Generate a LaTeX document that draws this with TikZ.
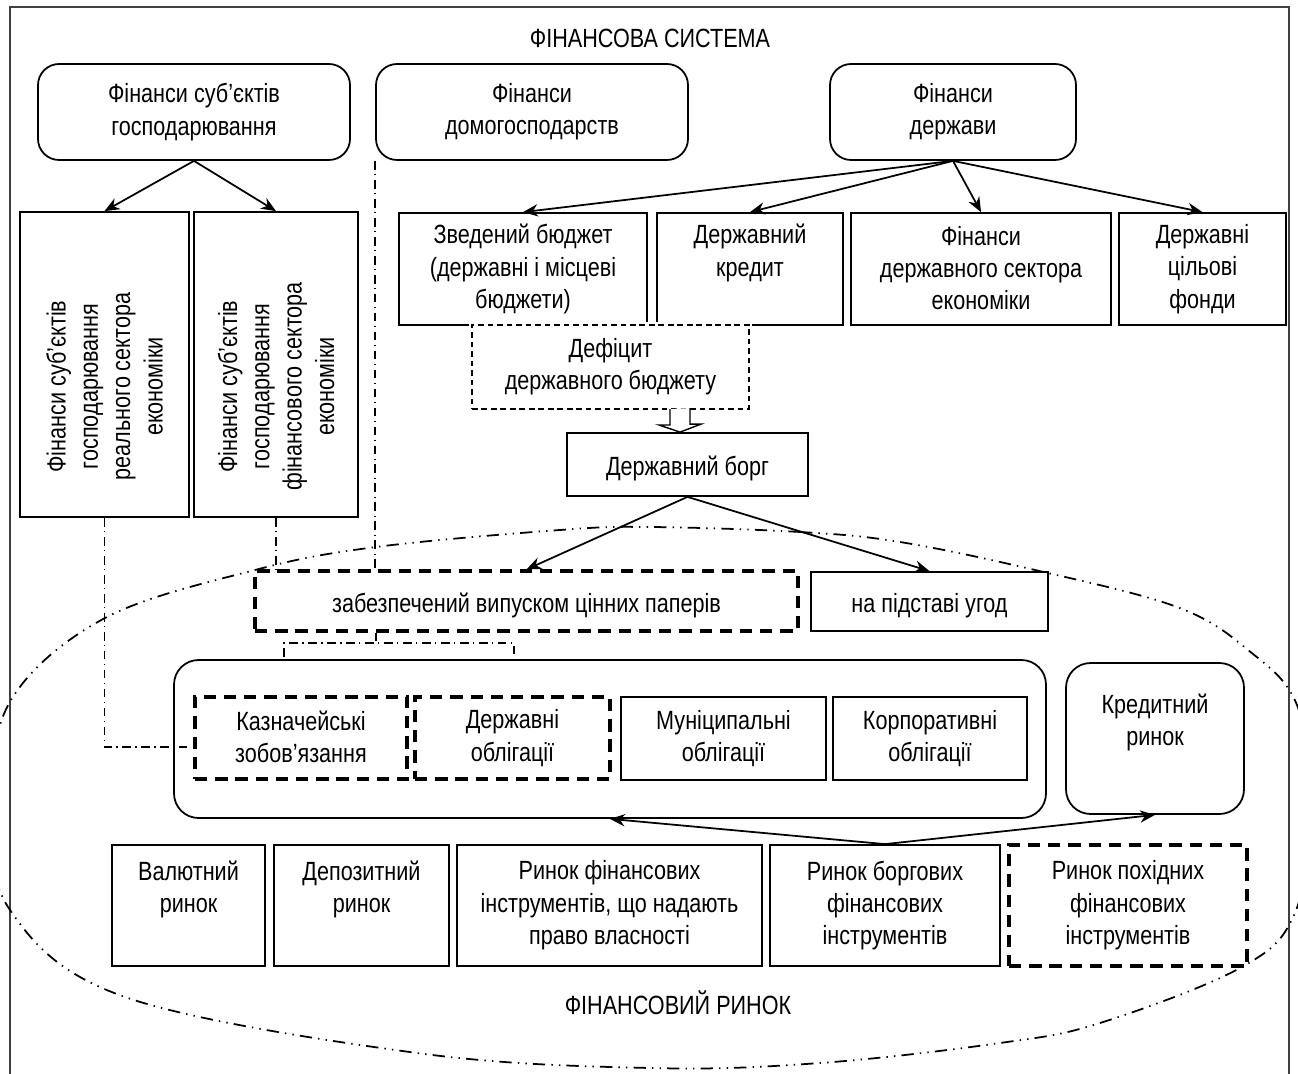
\documentclass[tikz,border=0pt]{standalone}
\usepackage{fontspec}
\setmainfont{Liberation Sans}[FakeStretch=0.82]
\usetikzlibrary{arrows.meta, positioning, calc}

% line strut: keeps every text block centred the same way
\newcommand\lstr{\rule[-1.2pt]{0pt}{17.2pt}}

\tikzset{
  box/.style={draw, line width=1pt, inner sep=0pt, align=center,
    execute at begin node=\lstr, execute at end node=\lstr},
  rbox/.style={box, rounded corners=12pt},
  sz/.style 2 args={minimum width=#1*0.02cm, minimum height=#2*0.02cm},
  thickdash/.style={box, line width=1.8pt, dash pattern=on 7pt off 4.5pt},
  thindash/.style={box, line width=0.9pt, dash pattern=on 3.2pt off 2.2pt},
  arr/.style={line width=1pt, -{Stealth[length=8.5pt,width=7pt]}},
  dashdot/.style={line width=0.8pt, dash pattern=on 5pt off 2.5pt on 0.8pt off 2.5pt},
  oval/.style={line width=1pt, dash pattern=on 7pt off 3.5pt on 0.8pt off 3.5pt on 0.8pt off 3.5pt}
}

\begin{document}
\begin{tikzpicture}[x=0.02cm, y=-0.02cm, font=\fontsize{15}{18.4}\selectfont]
\useasboundingbox (0,0) rectangle (1298,1074);
% Frame and title
\draw[black!75, line width=0.7pt] (10,1074) -- (10,7) -- (1289,7) -- (1289,1074);
\node (sys) at (650,38) {ФІНАНСОВА СИСТЕМА};
% Market oval
\draw[oval] plot[smooth cycle, tension=0.6] coordinates {
  (650,527) (800,532) (900,542) (1035,570) (1177,607) (1248,650)
  (1297,705) (1312,810) (1294,915) (1240,968) (1100,1023) (1000,1043)
  (820,1063) (650,1068) (417,1053) (125,997) (10,910) (-8,805)
  (11,700) (105,618) (255,570) (376,547) (560,530)};
% Top row
\node[rbox, sz={312}{96}] (ent) at (194,112) {Фінанси суб’єктів\\господарювання};
\node[rbox, sz={312}{96}] (hh) at (532,112) {Фінанси\\домогосподарств};
\node[rbox, sz={246}{96}] (state) at (953,112) {Фінанси\\держави};
% Enterprise finance
\node[box, sz={169}{305}] (real) at (104.5,364.5) {};
\node[box, sz={164}{305}] (fin) at (276,364.5) {};
\node[rotate=90, align=center] (realtxt) at ($(real.center)+(0,22)$)
  {Фінанси суб’єктів\\господарювання\\реального сектора\\економіки};
\node[rotate=90, align=center] (fintxt) at ($(fin.center)+(0,22)$)
  {Фінанси суб’єктів\\господарювання\\фінансового сектора\\економіки};
% State finance
\node[box, sz={248}{112}] (zved) at (523,269) {Зведений бюджет\\(державні і місцеві\\бюджети)};
\node[box, sz={186}{112}] (kred) at (750,269) {Державний\\кредит\\\lstr};
\node[box, sz={260}{112}] (sect) at (981,269) {Фінанси\\державного сектора\\економіки};
\node[box, sz={167}{112}] (fund) at (1202.5,269) {Державні\\цільові\\фонди};
\node[thindash, sz={277}{84}, fill=white, preaction={draw=white, solid, line width=3pt}]
  (def) at (610.5,367) {Дефіцит\\державного бюджету};
\node[box, sz={241}{63}] (debt) at (687.5,464.5) {Державний борг};
% Debt forms
\node[thickdash, sz={543}{60}] (zab) at (526.5,601) {забезпечений випуском цінних паперів};
\node[box, sz={237}{59}] (agr) at (929.5,601.5) {на підставі угод};
% Securities
\node[rbox, rounded corners=14pt, sz={872}{158}] (bonds) at (610,739) {};
\node[thickdash, sz={212}{82}] (kazn) at (301,738) {Казначейські\\зобов’язання};
\node[thickdash, sz={195}{82}] (gbond) at (512.5,738) {Державні\\облігації};
\node[box, sz={205}{83}] (mun) at (723.5,738.5) {Муніципальні\\облігації};
\node[box, sz={194}{83}] (corp) at (930,738.5) {Корпоративні\\облігації};
\node[rbox, rounded corners=14pt, sz={178}{151}] (cred) at (1155,738.5) {Кредитний\\ринок\\\lstr};
% Market segments
\node[box, sz={153}{121}] (fx) at (188.5,905.5) {Валютний\\ринок\\\lstr};
\node[box, sz={175}{121}] (dep) at (361.5,905.5) {Депозитний\\ринок\\\lstr};
\node[box, sz={305}{121}] (eq) at (609.5,905.5) {Ринок фінансових\\інструментів, що надають\\право власності};
\node[box, sz={230}{121}] (debtm) at (885,905.5) {Ринок боргових\\фінансових\\інструментів};
\node[thickdash, sz={238}{121}] (deriv) at (1128,905.5) {Ринок похідних\\фінансових\\інструментів};
\node (mkt) at (678,1003) {ФІНАНСОВИЙ РИНОК};
% Arrows
\draw[arr] (ent.south) -- (real.north);
\draw[arr] (ent.south) -- (fin.north);
\draw[arr] (state.south) -- (zved.north);
\draw[arr] (state.south) -- (kred.north);
\draw[arr] (state.south) -- (sect.north);
\draw[arr] (state.south) -- (fund.north);
\draw[arr] (debt.south) -- (zab.north);
\draw[arr] (debt.south) -- (agr.north);
\draw[arr] (debtm.north) -- (bonds.south);
\draw[arr] (debtm.north) -- (cred.south);
% Hollow arrow deficit -> debt
\coordinate (dtop) at (680,409);
\draw[line width=0.8pt, fill=white] ($(dtop)+(-10,0)$) -- ++(0,16) -- ++(-11,0)
  -- (debt.north -| dtop) -- ++(21,-8) -- ++(-11,0) -- ++(0,-16);
% Dash-dot links
\draw[dashdot] (real.south) |- ($(kazn.west)+(-6,9)$);
\draw[dashdot] (fin.south) -- (fin.south |- zab.north);
\draw[dashdot] (hh.south west) -- (hh.south west |- zab.north);
\coordinate (tick) at (376,643);
\coordinate (brl) at (284,657);
\coordinate (brr) at (514,657);
\draw[dashdot] (zab.south -| tick) -- (tick);
\draw[dashdot] (brl) -- (brl |- tick) -- (brr |- tick) -- (brr);
\end{tikzpicture}
\end{document}
